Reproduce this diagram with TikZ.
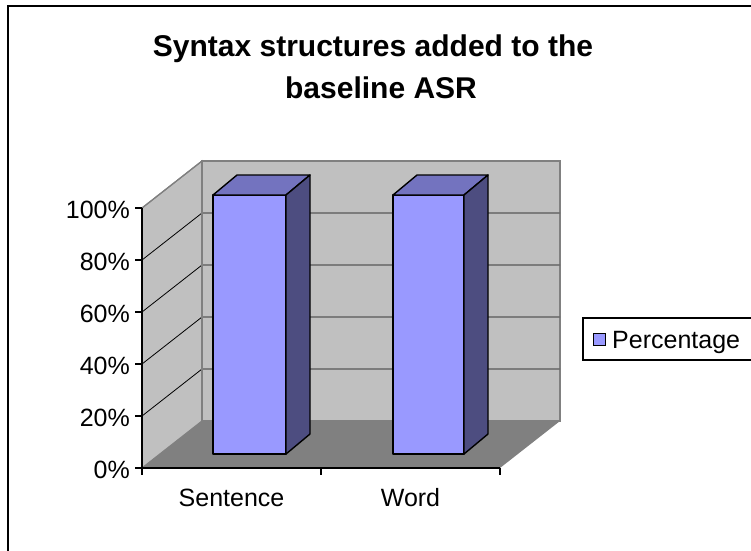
\documentclass[tikz,border=0pt]{standalone}
\usepackage{fontspec}
\setmainfont{Liberation Sans}
\definecolor{wallgray}{HTML}{C0C0C0}
\definecolor{floorgray}{HTML}{808080}
\definecolor{edgegray}{HTML}{808080}
\definecolor{barfront}{HTML}{9999FF}
\definecolor{bartop}{HTML}{7373BF}
\definecolor{barside}{HTML}{4D4D80}
\begin{document}
\begin{tikzpicture}[x=1pt,y=-1pt,
  wall/.style={fill=wallgray,draw=edgegray,line width=1.2pt,line join=miter},
  floorface/.style={fill=floorgray},
  gridln/.style={black,line width=0.8pt},
  axisln/.style={black,line width=1.2pt},
  face/.style={draw=black,line width=1.4pt,line join=round},
  lbl/.style={inner sep=0pt,font=\fontsize{25}{30}\selectfont},
  ttl/.style={inner sep=0pt,font=\fontsize{30}{36}\selectfont\bfseries}]
\useasboundingbox (0,0) rectangle (751,550);

% chart area frame (runs past the right and bottom edges)
\draw[line width=2pt] (8,570) -- (8,6) -- (770,6);

% title, centred on the chart area
\node[ttl,anchor=base] (t1) at (373,56) {Syntax structures added to the};
\node[ttl,anchor=base] (t2) at (381,98) {baseline ASR};

% side wall, back wall and floor
\path[wall] (142,208) -- (202,161) -- (202,421) -- (142,468) -- cycle;
\path[wall] (202,161) rectangle (560,421);
\path[floorface] (142,468) -- (202,421) -- (560,421) -- (500,468) -- cycle;

% gridlines at 20% steps
\foreach \k in {1,...,4}{
  \draw[gridln] (142,{468-52*\k}) -- (202,{421-52*\k}) -- (560,{421-52*\k});
}
\draw[edgegray,line width=1.2pt] (142,208) -- (202,161) -- (560,161) -- (560,421);
\draw[edgegray,line width=1.6pt] (202,161) -- (202,421);

% value axis with ticks and labels
\draw[axisln] (142,208) -- (142,468);
\foreach \k/\t in {0/0\%,1/20\%,2/40\%,3/60\%,4/80\%,5/100\%}{
  \draw[axisln] (135,{468-52*\k}) -- (142,{468-52*\k});
  \node[lbl,anchor=base east] (v\k) at (130,{478-52*\k}) {\t};
}

% category axis with ticks and labels
\draw[axisln] (142,468) -- (500,468);
\foreach \x in {142,321,500}{
  \draw[axisln] (\x,468) -- (\x,475);
}
\node[lbl,anchor=base] (c1) at (231.5,506) {Sentence};
\node[lbl,anchor=base] (c2) at (410.5,506) {Word};

% bars
\foreach \n/\a/\b in {s/213/286,w/393/464}{
  \path[face,fill=barfront] (\a,195) rectangle (\b,454);
  \path[face,fill=bartop] (\a,195) -- (\a+24,175) -- (\b+24,175) -- (\b,195) -- cycle;
  \path[face,fill=barside] (\b,195) -- (\b+24,175) -- (\b+24,434) -- (\b,454) -- cycle;
}

% legend
\draw[black,line width=1.2pt] (583,318) rectangle (770,360);
\draw[black,line width=1pt,fill=barfront] (593,333) rectangle (605,345);
\node[lbl,anchor=base west] (leg) at (612,348) {Percentage};
\end{tikzpicture}
\end{document}
